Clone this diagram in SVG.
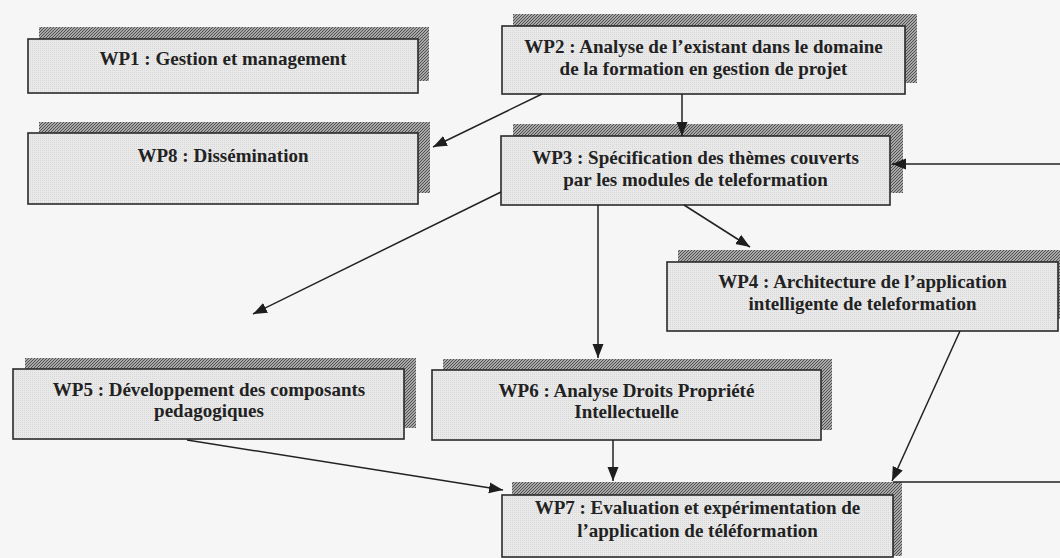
<svg xmlns="http://www.w3.org/2000/svg" width="1060" height="558" viewBox="0 0 1060 558">
<defs>
<pattern id="hatch" width="3" height="3" patternUnits="userSpaceOnUse">
<rect width="3" height="3" fill="#a8a8a8"/>
<path d="M0,3 L3,0" stroke="#505050" stroke-width="1"/>
</pattern>
<pattern id="dots" width="2" height="2" patternUnits="userSpaceOnUse">
<rect width="2" height="2" fill="#e9e9e9"/>
<rect width="1" height="1" fill="#d8d8d8"/>
</pattern>
<marker id="arr" markerUnits="userSpaceOnUse" markerWidth="16" markerHeight="12" refX="14" refY="5.5" orient="auto">
<path d="M0,0 L14,5.5 L0,11 z" fill="#1e1e1e"/>
</marker>
</defs>
<style>
.sh{fill:url(#hatch);}
.bx{fill:url(#dots);stroke:#2a2a2a;stroke-width:1.6;}
.t{font-family:"Liberation Serif","Times New Roman",serif;font-weight:bold;font-size:19px;fill:#222;text-anchor:middle;}
.c{stroke:#222;stroke-width:1.5;fill:none;}
.ca{stroke:#222;stroke-width:1.5;fill:none;marker-end:url(#arr);}
</style>
<rect width="1060" height="558" fill="#f6f6f6"/>

<g id="wp1">
<rect class="sh" x="39" y="27" width="390" height="54"/>
<rect class="bx" x="28" y="39" width="390" height="54"/>
<text class="t" x="223" y="65">WP1 : Gestion et management</text>
</g>

<g id="wp8">
<rect class="sh" x="39" y="122" width="391" height="71"/>
<rect class="bx" x="28" y="133" width="390" height="71"/>
<text class="t" x="223" y="162">WP8 : Dissémination</text>
</g>

<g id="wp2">
<rect class="sh" x="513" y="14" width="404" height="69"/>
<rect class="bx" x="502" y="26" width="403" height="68"/>
<text class="t" x="703.5" y="53">WP2 : Analyse de l’existant dans le domaine</text>
<text class="t" x="703.5" y="75">de la formation en gestion de projet</text>
</g>

<g id="wp3">
<rect class="sh" x="513" y="124" width="390" height="69"/>
<rect class="bx" x="501" y="136" width="389" height="69"/>
<text class="t" x="695.5" y="164">WP3 : Spécification des thèmes couverts</text>
<text class="t" x="695.5" y="186">par les modules de teleformation</text>
</g>

<g id="wp4">
<rect class="sh" x="678" y="250" width="400" height="69"/>
<rect class="bx" x="667" y="262" width="391" height="69"/>
<text class="t" x="862.5" y="288">WP4 : Architecture de l’application</text>
<text class="t" x="862.5" y="310">intelligente de teleformation</text>
</g>

<g id="wp5">
<rect class="sh" x="25" y="358" width="391" height="70"/>
<rect class="bx" x="13" y="369" width="391" height="70"/>
<text class="t" x="209" y="396">WP5 : Développement des composants</text>
<text class="t" x="209" y="417">pedagogiques</text>
</g>

<g id="wp6">
<rect class="sh" x="443" y="359" width="389" height="71"/>
<rect class="bx" x="432" y="370" width="389" height="70"/>
<text class="t" x="626.5" y="397">WP6 : Analyse Droits Propriété</text>
<text class="t" x="626.5" y="418">Intellectuelle</text>
</g>

<g id="wp7">
<rect class="sh" x="512" y="482" width="390" height="74"/>
<rect class="bx" x="502" y="495" width="391" height="62"/>
<text class="t" x="697.5" y="514">WP7 : Evaluation et expérimentation de</text>
<text class="t" x="697.5" y="537">l’application de téléformation</text>
</g>

<g id="connectors">
<line class="ca" x1="682" y1="94" x2="682" y2="136"/>
<line class="ca" x1="542" y1="94" x2="433" y2="147"/>
<line class="ca" x1="1060" y1="164" x2="892" y2="164"/>
<line class="ca" x1="684" y1="205" x2="750" y2="247"/>
<line class="ca" x1="598" y1="205" x2="598" y2="358"/>
<line class="ca" x1="501" y1="192" x2="253" y2="314"/>
<line class="ca" x1="960" y1="331" x2="892" y2="481"/>
<line class="c" x1="1060" y1="482" x2="893" y2="482"/>
<line class="ca" x1="613" y1="440" x2="613" y2="481"/>
<line class="ca" x1="187" y1="440" x2="503" y2="490"/>
</g>
</svg>
